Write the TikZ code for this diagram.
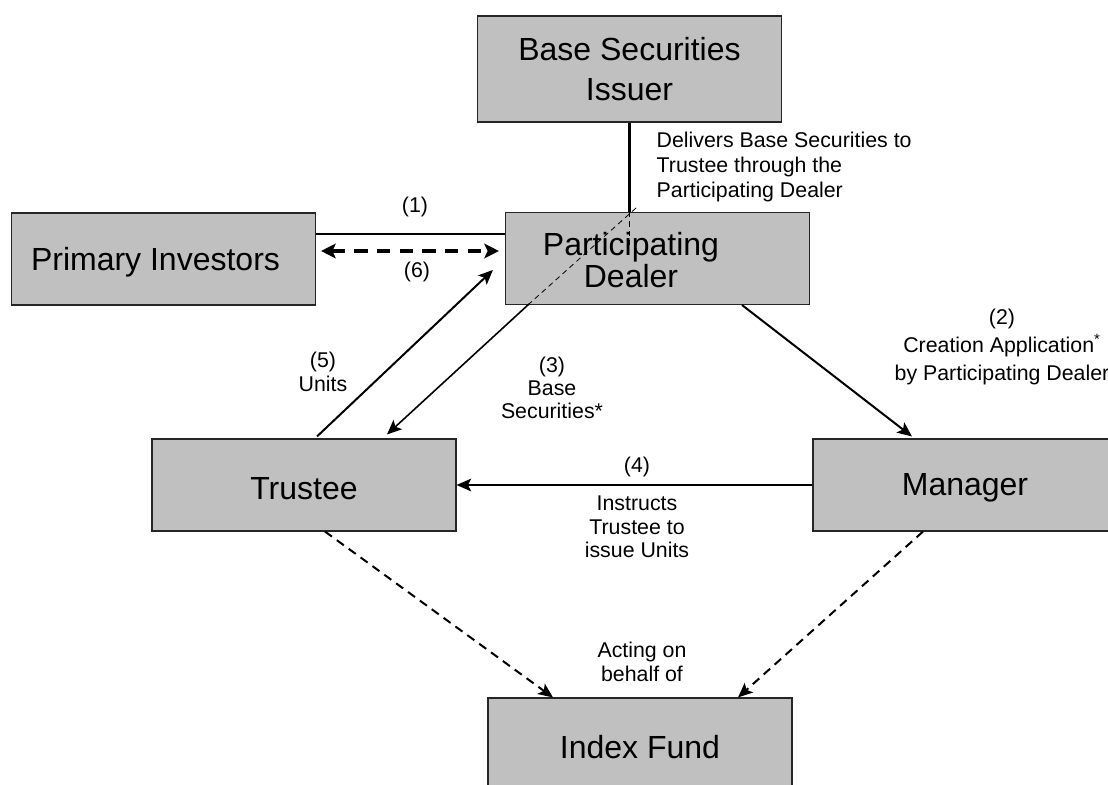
\documentclass[tikz,border=0pt]{standalone}
\usepackage{fontspec}
\setmainfont{Liberation Sans}
\usetikzlibrary{arrows.meta,calc}
\definecolor{boxgray}{RGB}{192,192,192}
\newcommand\boxtext[1]{\raisebox{-2.4pt}[\height][\depth]{#1}}
\tikzset{
  party/.style={draw=black!85,fill=boxgray,line width=0.8pt,minimum width=228pt,
    minimum height=69pt,inner sep=0pt,align=center,font=\fontsize{24}{30}\selectfont},
  note/.style={align=center,font=\fontsize{16}{17.5}\selectfont},
  tip/.style={-{Stealth[length=11pt,width=9.5pt,inset=2.5pt]}},
  flow/.style={tip,line width=1.5pt},
  acts/.style={tip,line width=1.5pt,dash pattern=on 6.5pt off 4.5pt},
  thru/.style={line width=0.6pt,dash pattern=on 4pt off 3pt}
}
\begin{document}
\begin{tikzpicture}[x=0.75pt,y=-0.75pt]
  \clip (0,0) rectangle (1108,785);
  \fill[white] (0,0) rectangle (1108,785);
  \node[party,minimum height=79.5pt] (BSI) at (629.5,69) {Base Securities\\Issuer};
  \node[party] (PD) at (657.5,258.5) {};
  \node[party] (PI) at (163.5,259) {\boxtext{Primary Investors\hspace*{12pt}}};
  \node[party] (T) at (304,485) {\boxtext{Trustee}};
  \node[party] (M) at (965,485) {\boxtext{Manager}};
  \node[party] (IF) at (640,744) {\boxtext{Index Fund}};
  \coordinate (via) at (636,208);
  \coordinate (cross) at (529,304);
  \draw[line width=2.2pt] (BSI.south) -- (BSI.south |- PD.north);
  \draw[thru] (BSI.south |- PD.north) -- ++(0,37);
  \draw[thru] (via) -- (cross);
  \node[font=\fontsize{24}{21}\selectfont,align=center] (PDtext) at (631,260) {Participating\\Dealer};
  \draw[line width=2pt] ($(PI.east)+(0,-25)$) -- ($(PD.west)+(0,-24.5)$);
  \draw[line width=2.4pt,dash pattern=on 10pt off 7pt,
    {Stealth[length=11pt,width=11pt,inset=2.5pt]}-{Stealth[length=11pt,width=11pt,inset=2.5pt]}]
    ($(PI.east)+(5,-8)$) -- ($(PD.west)+(-6,-7.5)$);
  \draw[flow] ($(T.north)+(13,-2)$) -- ($(PD.west)+(-12,11.5)$);
  \draw[flow,line width=1.2pt] (cross) -- ($(T.north)+(83,-4)$);
  \draw[flow] ($(PD.south)+(84.5,0)$) -- ($(M.north)+(-53,-2)$);
  \draw[flow] (M.west) -- (T.east);
  \draw[acts] ($(T.south)+(21,0)$) -- ($(IF.north)+(-87,0)$);
  \draw[acts] ($(M.south)+(-42,0)$) -- ($(IF.north)+(98,0)$);
  \node[note,align=left,anchor=west,font=\fontsize{16}{18.5}\selectfont] (deliv) at (652,167)
    {Delivers Base Securities to\\Trustee through the\\Participating Dealer};
  \node[note] (n1) at (415,207) {(1)};
  \node[note] (n6) at (417,272) {(6)};
  \node[note] (n5) at (323,372) {(5)\\Units};
  \node[note] (n3) at (552,388) {(3)\\Base\\Securities*};
  \node[note,font=\fontsize{16}{21}\selectfont] (n2) at (1002,347)
    {(2)\\Creation Application\textsuperscript{*}\\by Participating Dealer};
  \node[note] (n4) at (637,467) {(4)};
  \node[note] (instr) at (637,527) {Instructs\\Trustee to\\issue Units};
  \node[note] (behalf) at (642,662) {Acting on\\behalf of};
\end{tikzpicture}
\end{document}
